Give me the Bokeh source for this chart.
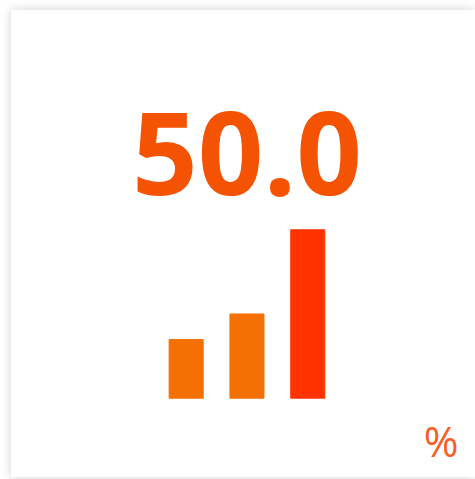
from bokeh.plotting import figure
from bokeh.models import ColumnDataSource, Range1d, Label
from bokeh.core.properties import value
from bokeh.embed import file_html
from bokeh.resources import INLINE

# data
positions = [1, 2, 3]
values = [17.4, 25.0, 50.0]
colors = ["#F57004", "#F57004", "#FF3300"]
headline = values[-1]
unit = "%"

src = ColumnDataSource(dict(x=positions, top=values, color=colors))

p = figure(width=464, height=467, output_backend="svg", toolbar_location=None,
           x_range=Range1d(-1.873, 5.759), y_range=Range1d(-23.55, 115.1),
           min_border=0)
p.axis.visible = False
p.grid.visible = False
p.outline_line_color = None
p.background_fill_color = "white"
p.border_fill_color = "white"
p.styles = {"margin-left": "11px", "margin-top": "10px", "margin-bottom": "-8px",
            "box-shadow": "0 0 10px rgba(0,0,0,0.18)"}

p.vbar(x="x", top="top", bottom=0, width=0.56, color="color", source=src)

p.text(x=[2.0], y=[72.7], text=[f"{headline:.1f}"], text_align="center",
       text_baseline="alphabetic", text_font=value("Open Sans"),
       text_font_style="bold", text_font_size="115px", text_color="#F55304")

p.add_layout(Label(x=5.48, y=-12.5, text=unit, text_align="right",
                   text_baseline="alphabetic", text_font="Open Sans",
                   text_font_size="42px", text_color="#F5602A"))

open("out.html", "w").write(file_html(p, INLINE))
